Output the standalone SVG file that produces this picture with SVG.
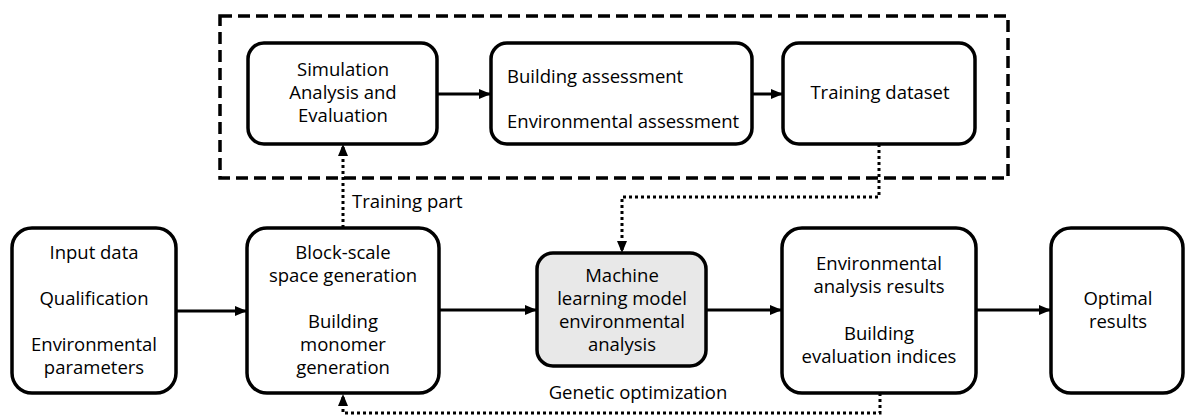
<svg xmlns="http://www.w3.org/2000/svg" width="1187" height="415" viewBox="0 0 1187 415">
<style>
.box{fill:#fff;stroke:#000;stroke-width:3.5}
.gray{fill:#e8e8e8}
.t{font-family:"Open Sans","Noto Sans","Liberation Sans",sans-serif;font-size:18.5px;fill:#000;text-anchor:middle}
.l{text-anchor:start}
.arr{fill:none;stroke:#000;stroke-width:3;marker-end:url(#ah)}
.dot{fill:none;stroke:#000;stroke-width:3;stroke-dasharray:3 3;marker-end:url(#ah)}
.dash{fill:none;stroke:#000;stroke-width:3.5;stroke-dasharray:12 6}
</style>
<defs>
<marker id="ah" markerUnits="userSpaceOnUse" markerWidth="13" markerHeight="13" refX="12" refY="6.5" orient="auto">
<path d="M0,1.5 L12,6.5 L0,11.5 z" fill="#000"/>
</marker>
</defs>
<rect width="1187" height="415" fill="#fff"/>
<rect id="training-frame" class="dash" x="220" y="16" width="788" height="162"/>
<g id="connectors">
<path class="arr" d="M176,311 H247"/>
<path class="arr" d="M439,310 H537"/>
<path class="arr" d="M706,310 H782"/>
<path class="arr" d="M976,310 H1051"/>
<path class="arr" d="M437,94 H491"/>
<path class="arr" d="M752,94 H783"/>
<path class="dot" d="M343,228 V144"/>
<path class="dot" d="M879,144 V197 H622 V253"/>
<path class="dot" d="M880,393 V413 H343 V394"/>
<text class="t l" x="352" y="208">Training part</text>
<text class="t" x="638" y="399">Genetic optimization</text>
</g>
<g id="sim">
<rect class="box" x="248" y="43" width="189" height="101" rx="16"/>
<text class="t" x="343" y="76">Simulation</text>
<text class="t" x="343" y="99">Analysis and</text>
<text class="t" x="343" y="122">Evaluation</text>
</g>
<g id="assess">
<rect class="box" x="491" y="43" width="261" height="101" rx="16"/>
<text class="t l" x="507" y="83">Building assessment</text>
<text class="t l" x="507" y="128">Environmental assessment</text>
</g>
<g id="dataset">
<rect class="box" x="783" y="43" width="192" height="101" rx="16"/>
<text class="t" x="880" y="99">Training dataset</text>
</g>
<g id="input">
<rect class="box" x="12" y="228" width="164" height="165" rx="20"/>
<text class="t" x="94" y="259">Input data</text>
<text class="t" x="94" y="305">Qualification</text>
<text class="t" x="94" y="351">Environmental</text>
<text class="t" x="94" y="374">parameters</text>
</g>
<g id="block">
<rect class="box" x="247" y="228" width="192" height="165" rx="20"/>
<text class="t" x="343" y="259">Block-scale</text>
<text class="t" x="343" y="282">space generation</text>
<text class="t" x="343" y="328">Building</text>
<text class="t" x="343" y="351">monomer</text>
<text class="t" x="343" y="374">generation</text>
</g>
<g id="ml">
<rect class="box gray" x="537" y="253" width="169" height="113" rx="16"/>
<text class="t" x="622" y="282">Machine</text>
<text class="t" x="622" y="305">learning model</text>
<text class="t" x="622" y="328">environmental</text>
<text class="t" x="622" y="351">analysis</text>
</g>
<g id="results">
<rect class="box" x="782" y="228" width="194" height="165" rx="20"/>
<text class="t" x="879" y="270">Environmental</text>
<text class="t" x="879" y="293">analysis results</text>
<text class="t" x="879" y="340">Building</text>
<text class="t" x="879" y="363">evaluation indices</text>
</g>
<g id="optimal">
<rect class="box" x="1051" y="228" width="132" height="165" rx="20"/>
<text class="t" x="1118" y="305">Optimal</text>
<text class="t" x="1118" y="328">results</text>
</g>
</svg>
